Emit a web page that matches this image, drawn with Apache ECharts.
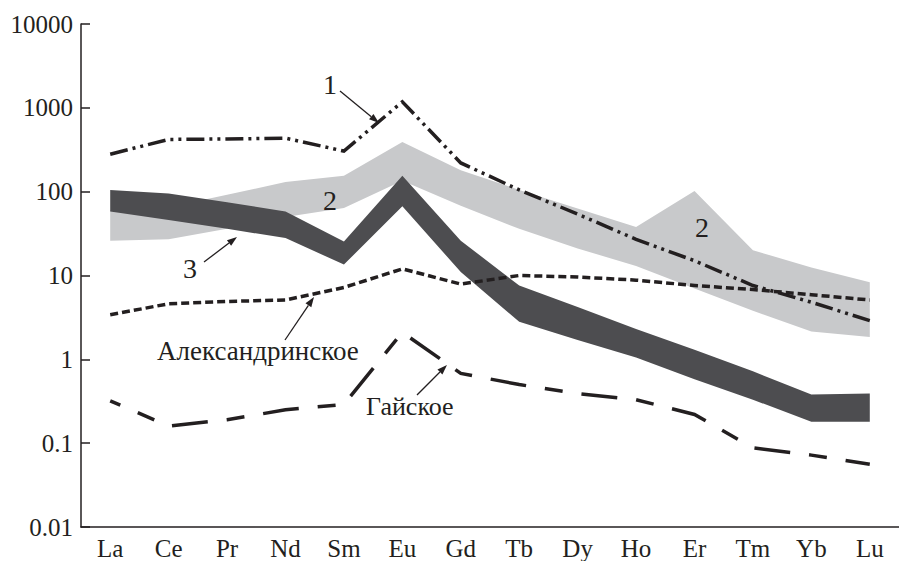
<!DOCTYPE html>
<html>
<head>
<meta charset="utf-8">
<script src="https://cdn.jsdelivr.net/npm/echarts@6/dist/echarts.min.js"></script>
<style>
  html, body { margin: 0; padding: 0; background: #ffffff; }
  #chart { width: 899px; height: 561px; font-family: 'Liberation Serif', serif; }
</style>
</head>
<body>
<div id="chart"></div>
<script>
// REE patterns, chondrite-normalised (log scale)
const categories = ['La', 'Ce', 'Pr', 'Nd', 'Sm', 'Eu', 'Gd', 'Tb', 'Dy', 'Ho', 'Er', 'Tm', 'Yb', 'Lu'];
const yTickLabels = ['0.01', '0.1', '1', '10', '100', '1000', '10000'];

// curve 1 (dash-dot-dot)
const curve1 = [280, 420, 425, 435, 305, 1180, 220, 105, 54, 27, 15, 7.6, 4.8, 2.9];
// Александринское (short dashes)
const alexandrinskoe = [3.4, 4.6, 4.9, 5.1, 7.2, 12, 7.9, 10, 9.6, 8.8, 7.6, 6.8, 5.9, 5.1];
// Гайское (long dashes)
const gaiskoe = [0.32, 0.16, 0.19, 0.25, 0.29, 2.1, 0.68, 0.5, 0.39, 0.33, 0.22, 0.088, 0.072, 0.056];
// field 2 (light band): upper and lower bounds
const field2Upper = [60, 65, 92, 130, 155, 390, 180, 105, 63, 38, 102, 20, 12.5, 8.3];
const field2Lower = [26, 27, 36, 50, 64, 135, 68, 36, 21, 13, 7, 3.8, 2.15, 1.85];
// field 3 (dark band): upper and lower bounds
const field3Upper = [105, 95, 75, 58, 25.5, 155, 26, 7.6, 4.2, 2.3, 1.3, 0.72, 0.38, 0.39];
const field3Lower = [58, 46, 36, 28, 13.5, 67, 11, 2.8, 1.7, 1.05, 0.58, 0.33, 0.18, 0.18];

const INK = '#231f20';
const FONT = '"Liberation Serif", "Times New Roman", serif';

function bandSeries(name, upper, lower, color, z) {
  return {
    name: name,
    type: 'custom',
    z: z,
    silent: true,
    data: [[0, upper[0]]],
    renderItem: function (params, api) {
      const pts = [];
      for (let i = 0; i < upper.length; i++) pts.push(api.coord([i, upper[i]]));
      for (let i = lower.length - 1; i >= 0; i--) pts.push(api.coord([i, lower[i]]));
      return { type: 'polygon', shape: { points: pts }, style: { fill: color, stroke: null } };
    }
  };
}

function lineSeries(name, values, dash, offset, z) {
  return {
    name: name,
    type: 'line',
    z: z,
    data: values,
    symbol: 'none',
    silent: true,
    lineStyle: { color: INK, width: 3.5, type: dash, dashOffset: offset, cap: 'butt', join: 'miter' }
  };
}

const chart = echarts.init(document.getElementById('chart'), null, { renderer: 'svg' });

chart.setOption({
  animation: false,
  backgroundColor: '#ffffff',
  textStyle: { fontFamily: FONT },
  grid: { left: 81, right: -9, top: 24, bottom: 29, containLabel: false },
  xAxis: {
    type: 'category',
    data: categories,
    boundaryGap: true,
    axisLine: { lineStyle: { color: INK, width: 1.5 } },
    axisTick: { inside: true, length: 8, lineStyle: { color: INK, width: 1.5 } },
    axisLabel: { interval: 0, margin: 9, color: INK, fontFamily: FONT, fontSize: 25 },
    splitLine: { show: false }
  },
  yAxis: {
    type: 'log',
    logBase: 10,
    min: 0.01,
    max: 10000,
    axisLine: { show: true, lineStyle: { color: INK, width: 1.5 } },
    axisTick: { show: true, inside: true, length: 9, lineStyle: { color: INK, width: 1.5 } },
    axisLabel: {
      margin: 8, color: INK, fontFamily: FONT, fontSize: 25,
      formatter: function (v) {
        const e = Math.round(Math.log10(v));
        return yTickLabels[e + 2];
      }
    },
    splitLine: { show: false },
    minorTick: { show: false }
  },
  series: [
    bandSeries('2', field2Upper, field2Lower, '#c8c9cb', 1),
    bandSeries('3', field3Upper, field3Lower, '#4d4d50', 2),
    lineSeries('1', curve1, [18, 5, 3, 5, 3, 5], 0, 5),
    lineSeries('Александринское', alexandrinskoe, [8, 4], 0, 5),
    lineSeries('Гайское', gaiskoe, [18, 19, 36, 19], 62, 5)
  ]
});

// annotation labels and leader arrows
function arrow(x1, y1, x2, y2) {
  const ang = Math.atan2(y2 - y1, x2 - x1);
  const len = 10, half = 3.5;
  const bx = x2 - len * Math.cos(ang), by = y2 - len * Math.sin(ang);
  const nx = -Math.sin(ang) * half, ny = Math.cos(ang) * half;
  return [
    { type: 'line', shape: { x1: x1, y1: y1, x2: bx, y2: by }, style: { stroke: INK, lineWidth: 1.3 }, z: 10 },
    { type: 'polygon', shape: { points: [[x2, y2], [bx + nx, by + ny], [bx - nx, by - ny]] }, style: { fill: INK }, z: 10 }
  ];
}
function label(text, x, y, size, align) {
  return {
    type: 'text', x: x, y: y, z: 10,
    style: {
      text: text, fill: INK, fontFamily: FONT, fontSize: size,
      textAlign: align || 'center', textVerticalAlign: 'middle'
    }
  };
}

chart.setOption({
  graphic: [
    label('1', 330, 84, 28),
    ...arrow(340, 91, 379, 123),
    label('2', 330, 200, 28),
    label('2', 702, 227, 28),
    label('3', 190, 268, 28),
    ...arrow(204, 262, 237, 237),
    label('Александринское', 157, 351, 27, 'left'),
    ...arrow(285, 340, 314, 297),
    label('Гайское', 366, 406, 26, 'left'),
    ...arrow(417, 395, 447, 365)
  ]
});
</script>
</body>
</html>
